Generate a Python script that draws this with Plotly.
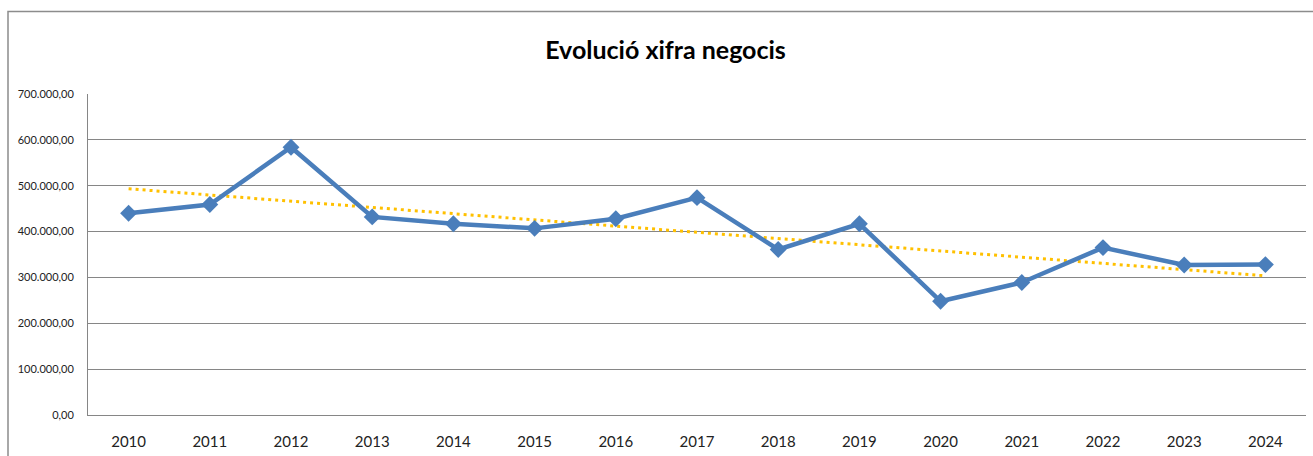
import numpy as np
import plotly.graph_objects as go

years = ["2010", "2011", "2012", "2013", "2014", "2015", "2016", "2017",
         "2018", "2019", "2020", "2021", "2022", "2023", "2024"]
values = [440000, 459000, 584000, 432000, 417000, 407000, 428000, 474000,
          361000, 417000, 248000, 289000, 365000, 327000, 328000]
y_ticks = [0, 100000, 200000, 300000, 400000, 500000, 600000, 700000]
y_tick_labels = ["0,00", "100.000,00", "200.000,00", "300.000,00",
                 "400.000,00", "500.000,00", "600.000,00", "700.000,00"]

# linear trendline (least squares, as Excel does)
idx = np.arange(len(values))
slope, intercept = np.polyfit(idx, values, 1)
trend = (slope * idx + intercept).tolist()

fig = go.Figure()
fig.add_trace(go.Scatter(
    x=years, y=trend, mode="lines",
    line=dict(color="#FFC000", width=3, dash="3px,4px"),
    hoverinfo="skip", showlegend=False))
fig.add_trace(go.Scatter(
    x=years, y=values, mode="lines+markers",
    line=dict(color="#4A7EBB", width=4.5),
    marker=dict(symbol="diamond", size=13, color="#4A7EBB"),
    showlegend=False))

L, R, T, B = 88, 7, 94, 41
W, H = 1313, 456
pw = W - L - R
ph = H - T - B

def px2x(px):
    return (px - L) / pw

def py2y(py):
    return (H - B - py) / ph

fig.add_shape(type="rect", xref="paper", yref="paper",
              x0=px2x(8), x1=px2x(1316), y0=py2y(470), y1=py2y(11.5),
              line=dict(color="#8C8C8C", width=1.5), fillcolor="rgba(0,0,0,0)",
              layer="below")

fig.update_layout(
    width=W, height=H,
    margin=dict(l=L, r=R, t=T, b=B),
    paper_bgcolor="white", plot_bgcolor="white",
    title=dict(text="<b>Evolució xifra negocis</b>", x=px2x(665.5), xref="paper",
               xanchor="center", y=1 - 50 / H, yanchor="middle",
               font=dict(family="Lato", size=25, color="#000000")),
    xaxis=dict(
        type="category", showgrid=False, showline=True, linecolor="#868686",
        linewidth=1, ticks="", ticklabelstandoff=13,
        tickfont=dict(family="Lato", size=15, color="#222222"),
        range=[-0.5, len(years) - 0.5], fixedrange=True),
    yaxis=dict(
        range=[0, 700000], tickvals=y_ticks, ticktext=y_tick_labels,
        showgrid=True, gridcolor="#868686", gridwidth=1,
        showline=True, linecolor="#868686", linewidth=1,
        zeroline=False, ticks="", ticklabelstandoff=11,
        tickfont=dict(family="Lato", size=11, color="#222222"),
        fixedrange=True),
)

fig.write_html("out.html", config={"displayModeBar": False})
with open("out.html", encoding="utf-8") as f:
    html = f.read()
html = html.replace("<head>", "<head><style>html,body{margin:0;padding:0;overflow:hidden;}</style>", 1)
with open("out.html", "w", encoding="utf-8") as f:
    f.write(html)
